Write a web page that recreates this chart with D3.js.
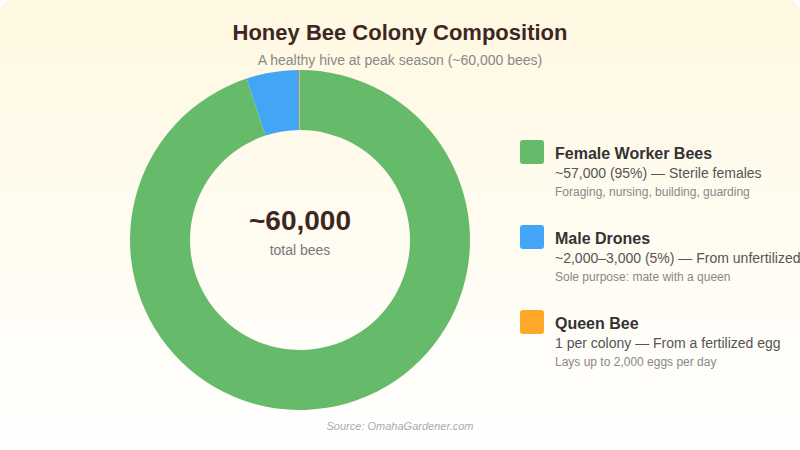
<!DOCTYPE html>
<html>
<head>
<meta charset="utf-8">
<script src="https://cdn.jsdelivr.net/npm/d3@7"></script>
<style>
html,body{margin:0;padding:0;background:#fff;}
svg{display:block;font-family:"Liberation Sans",Arial,sans-serif;}
</style>
</head>
<body>
<svg id="chart" width="800" height="450"></svg>
<script>
const categories = ["Female Worker Bees", "Male Drones", "Queen Bee"];
const values = [57000, 3000, 50];
const colors = ["#66bb6a", "#42a5f5", "#ffa726"];
const detailLines = ["~57,000 (95%) — Sterile females", "~2,000–3,000 (5%) — From unfertilized eggs", "1 per colony — From a fertilized egg"];
const noteLines = ["Foraging, nursing, building, guarding", "Sole purpose: mate with a queen", "Lays up to 2,000 eggs per day"];

const W = 800, H = 450;
const svg = d3.select("#chart");
const defs = svg.append("defs");
const grad = defs.append("linearGradient").attr("id","bg").attr("x1",0).attr("y1",0).attr("x2",0).attr("y2",1);
grad.append("stop").attr("offset","0%").attr("stop-color","#fff8e1");
grad.append("stop").attr("offset","100%").attr("stop-color","#ffffff");
svg.append("rect").attr("width",W).attr("height",H).attr("rx",12).attr("fill","url(#bg)");

svg.append("text").attr("x",400).attr("y",40).attr("text-anchor","middle")
  .attr("font-size",22).attr("font-weight","bold").attr("fill","#3e2723").text("Honey Bee Colony Composition");
svg.append("text").attr("x",400).attr("y",65).attr("text-anchor","middle")
  .attr("font-size",14).attr("fill","#888").text("A healthy hive at peak season (~60,000 bees)");

const cx = 300, cy = 240, rOuter = 170, rInner = 110;
const pie = d3.pie().sort(null).value(d => d);
const arc = d3.arc().innerRadius(rInner).outerRadius(rOuter);
const g = svg.append("g").attr("transform",`translate(${cx},${cy})`);
g.selectAll("path").data(pie(values)).join("path")
  .attr("d",arc).attr("fill",(d,i)=>colors[i]);

g.append("text").attr("y",-10).attr("text-anchor","middle").attr("font-size",28)
  .attr("font-weight","bold").attr("fill","#3e2723").text("~60,000");
g.append("text").attr("y",15).attr("text-anchor","middle").attr("font-size",14)
  .attr("fill","#777").text("total bees");

const leg = svg.append("g");
const ly = d3.scalePoint().domain(categories).range([140, 310]);
const items = leg.selectAll("g").data(categories).join("g")
  .attr("transform", d => `translate(520,${ly(d)})`);
items.append("rect").attr("width",24).attr("height",24).attr("rx",3).attr("fill",(d,i)=>colors[i]);
items.append("text").attr("x",35).attr("y",19).attr("font-size",16).attr("font-weight","bold").attr("fill","#333").text(d=>d);
items.append("text").attr("x",35).attr("y",38).attr("font-size",14).attr("fill","#555").text((d,i)=>detailLines[i]);
items.append("text").attr("x",35).attr("y",56).attr("font-size",12).attr("fill","#888").text((d,i)=>noteLines[i]);

svg.append("text").attr("x",400).attr("y",430).attr("text-anchor","middle")
  .attr("font-size",11).attr("font-style","italic").attr("fill","#aaa").text("Source: OmahaGardener.com");
</script>
</body>
</html>
